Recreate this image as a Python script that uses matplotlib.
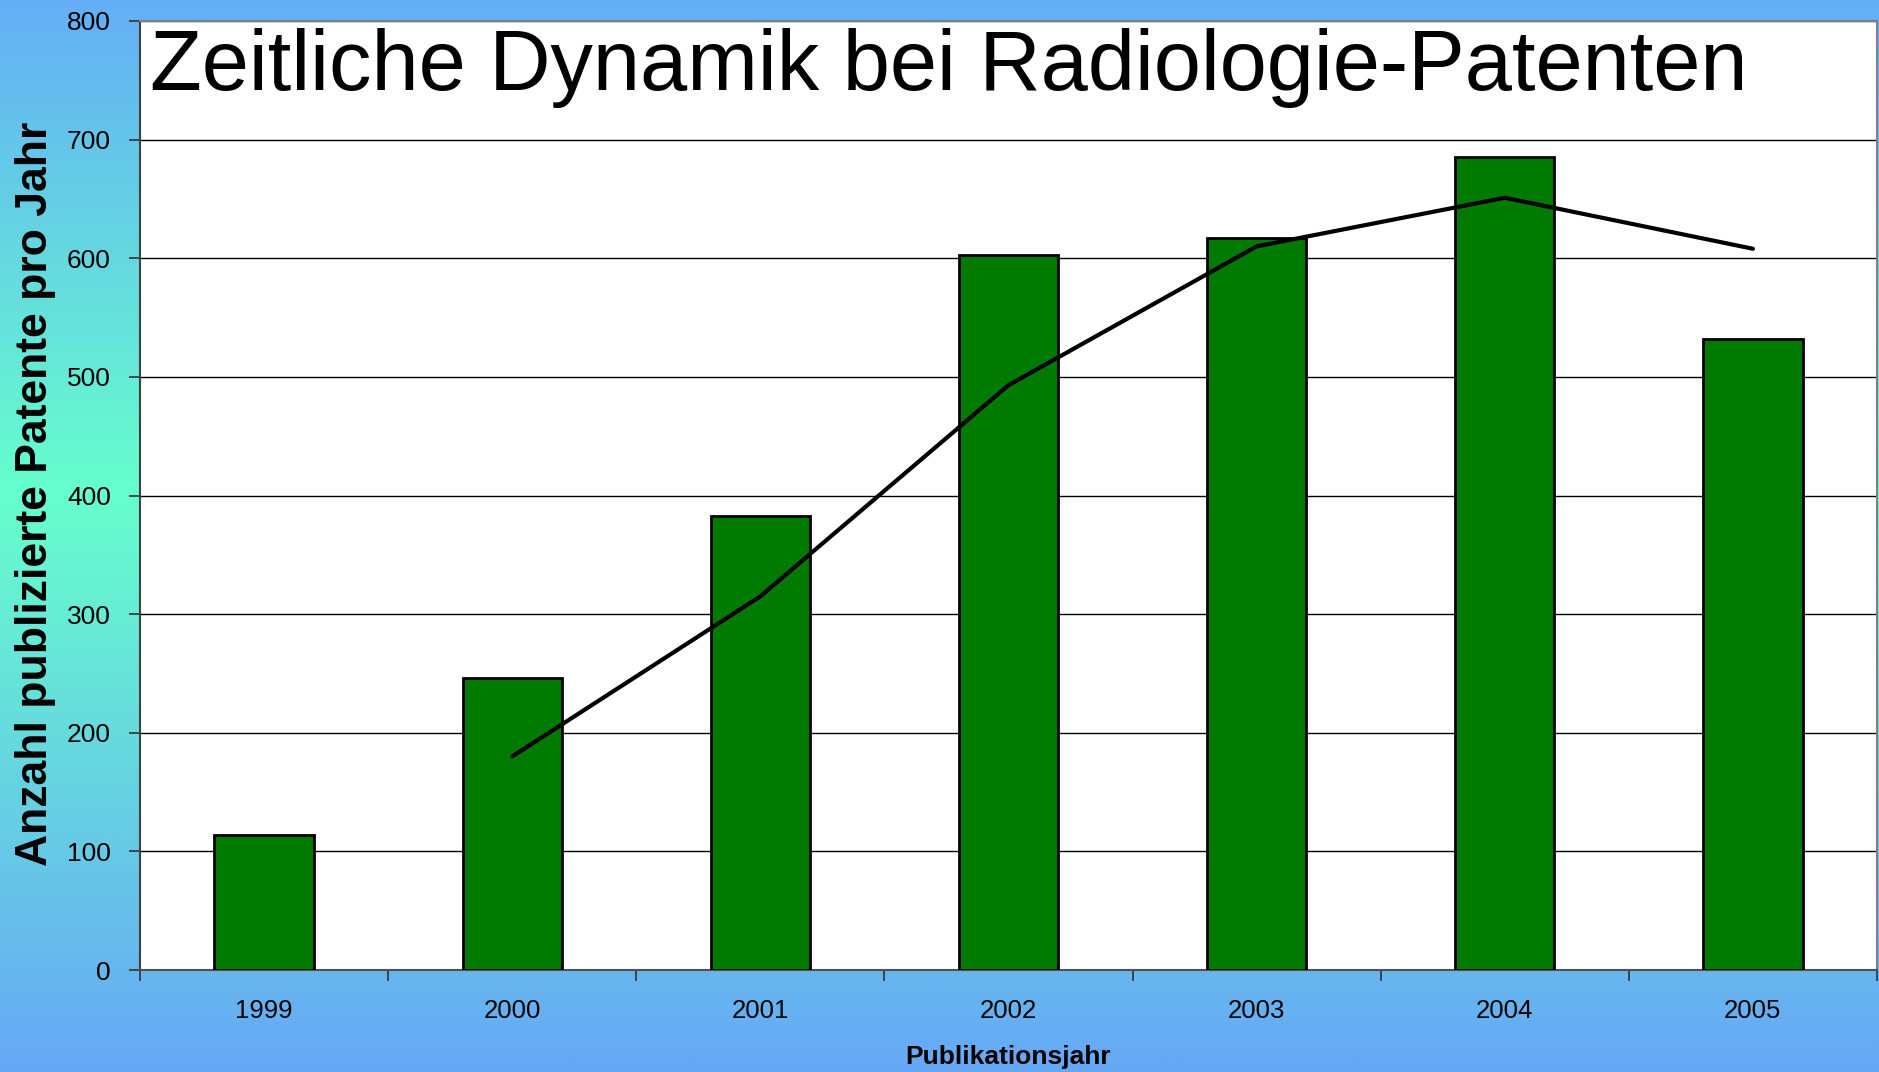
import numpy as np
import matplotlib
matplotlib.use("Agg")
import matplotlib.pyplot as plt
from matplotlib.colors import LinearSegmentedColormap

# -----------------------------
# Data
# -----------------------------
years = ['1999', '2000', '2001', '2002', '2003', '2004', '2005']
patents = [114, 246, 383, 603, 617, 685, 532]
# trend line (2-year moving average), starts at 2000
trend_years = ['2000', '2001', '2002', '2003', '2004', '2005']
trend_vals = [180, 315, 493, 610, 651, 608]

title = 'Zeitliche Dynamik bei Radiologie-Patenten'
ylabel = 'Anzahl publizierte Patente pro Jahr'
xlabel = 'Publikationsjahr'

plt.rcParams['font.family'] = ['Liberation Sans', 'DejaVu Sans']

fig = plt.figure(figsize=(18.79, 10.72), dpi=100)

# -----------------------------
# Background gradient
# -----------------------------
bg = fig.add_axes([0, 0, 1, 1], zorder=-10)
cmap = LinearSegmentedColormap.from_list(
    'bg', [(0.0, '#64aef6'), (0.46, '#66ffcc'), (1.0, '#66a8f6')])
grad = np.linspace(0, 1, 512).reshape(-1, 1)
bg.imshow(grad, aspect='auto', cmap=cmap, extent=[0, 1, 1, 0])
bg.axis('off')

# -----------------------------
# Main chart
# -----------------------------
W, H = 1879, 1072
left, right, top, bottom = 140, 1877, 21, 970
ax = fig.add_axes([left / W, 1 - bottom / H, (right - left) / W, (bottom - top) / H])
ax.set_facecolor('white')

x = np.arange(len(years))
ax.bar(x, patents, width=0.4, color='#007a00', edgecolor='black', linewidth=2, zorder=3)

tx = [years.index(y) for y in trend_years]
ax.plot(tx, trend_vals, color='black', lw=3, solid_capstyle='round',
        solid_joinstyle='round', zorder=4)

ax.set_xlim(-0.5, len(years) - 0.5)
ax.set_ylim(0, 800)
ax.set_yticks(range(0, 801, 100))
ax.yaxis.grid(True, color='black', lw=1.0, zorder=1)
ax.set_axisbelow(True)

# category labels centered, ticks between categories
ax.set_xticks(x)
ax.set_xticklabels(years, fontsize=18.5)
ax.tick_params(axis='x', which='major', length=0, pad=21)
ax.set_xticks(np.arange(-0.5, len(years), 1.0), minor=True)
ax.tick_params(axis='x', which='minor', length=8, width=1.2, color='#333333')
ax.tick_params(axis='y', length=8, width=1.2, labelsize=19, pad=13, color='#333333')

for s in ['top', 'right']:
    ax.spines[s].set_color('#808080')
    ax.spines[s].set_linewidth(1.5)
ax.spines['left'].set_color('#404040')
ax.spines['left'].set_linewidth(1.5)
ax.spines['bottom'].set_color('#505050')
ax.spines['bottom'].set_linewidth(1.5)

fig.text(150 / W, 1 - 90 / H, title, fontsize=61, ha='left', va='baseline', zorder=5)

fig.text(36 / W, 1 - 494 / H, ylabel, rotation=90, fontsize=32,
         fontweight='bold', ha='center', va='center')
fig.text(1008 / W, 1 - 1057 / H, xlabel, fontsize=19, fontweight='bold',
         ha='center', va='center')

plt.savefig('out.png', dpi=100)
